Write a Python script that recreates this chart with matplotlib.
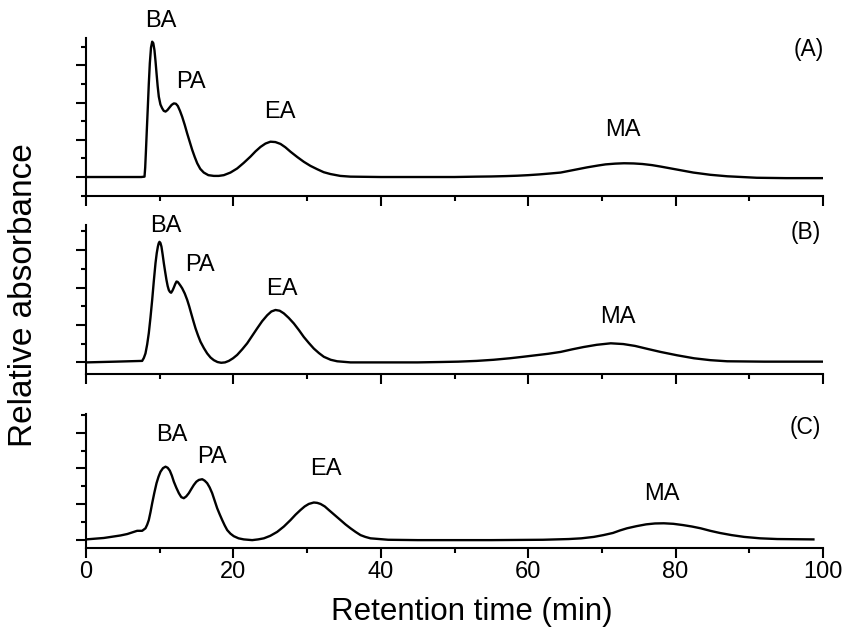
import matplotlib
matplotlib.use('Agg')
import matplotlib.pyplot as plt
from matplotlib.ticker import MultipleLocator

plt.rcParams['font.family'] = ['Liberation Sans', 'DejaVu Sans']

# chromatogram traces (time in min, relative absorbance)
t_a = [0, 7.5, 7.94, 8.03, 8.12, 8.25, 8.39, 8.52, 8.66, 8.82, 8.98, 9.13, 9.29, 9.43,
       9.57, 9.72, 9.88, 10.1, 10.33, 10.55, 10.79, 11.05, 11.33, 11.62, 11.92, 12.2,
       12.46, 12.75, 13.05, 13.4, 13.73, 14.07, 14.41, 14.75, 15.09, 15.5, 15.98, 16.6,
       17.34, 18.0, 18.7, 19.6, 20.51, 21.4, 22.32, 23.0, 23.68, 24.35, 25.03, 25.7,
       26.39, 27.05, 27.75, 28.65, 29.55, 30.45, 31.37, 32.25, 33.17, 34.5, 35.89, 40,
       50, 53, 55, 57, 58.5, 60, 61.5, 63, 64.4, 66.2, 68, 69.5, 70.5, 71.8, 73, 74.3,
       75.5, 76.8, 78, 80.2, 82.4, 84.7, 87, 89, 91, 95, 100]
y_a = [0, 0, 0.01, 0.25, 0.64, 1.25, 1.89, 2.5, 3.06, 3.48, 3.64, 3.6, 3.41, 3.12,
       2.79, 2.45, 2.16, 1.95, 1.85, 1.78, 1.76, 1.8, 1.87, 1.94, 1.98, 1.97,
       1.91, 1.78, 1.62, 1.4, 1.17, 0.95, 0.73, 0.54, 0.37, 0.22, 0.12, 0.05,
       0.03, 0.03, 0.05, 0.12, 0.23, 0.38, 0.55, 0.69, 0.81, 0.9, 0.95, 0.94,
       0.89, 0.8, 0.68, 0.54, 0.41, 0.3, 0.21, 0.13, 0.08, 0.03, 0.01, 0,
       0, 0.01, 0.015, 0.025, 0.035, 0.05, 0.07, 0.095, 0.12, 0.19, 0.26, 0.31, 0.34,
       0.36, 0.37, 0.365, 0.35, 0.32, 0.28, 0.2, 0.12, 0.06, 0.02, 0.0, -0.02, -0.03,
       -0.03]

t_b = [0, 4, 7.62, 7.85, 8.07, 8.3, 8.52, 8.75, 8.98, 9.2, 9.43, 9.6, 9.75, 9.86, 9.97,
       10.1, 10.24, 10.4, 10.56, 10.74, 10.92, 11.08, 11.24, 11.4, 11.55, 11.74, 11.92,
       12.1, 12.28, 12.44, 12.6, 12.82, 13.05, 13.4, 13.73, 14.0, 14.27, 14.56, 14.86,
       15.2, 15.54, 16.0, 16.44, 16.9, 17.34, 17.84, 18.34, 18.86, 19.38, 19.95, 20.51,
       21.2, 21.87, 22.55, 23.23, 23.9, 24.59, 25.15, 25.71, 26.28, 26.84, 27.5, 28.2,
       28.9, 29.55, 30.23, 30.91, 31.6, 32.27, 33.2, 34.08, 35.89, 40, 45, 48, 50.5, 53,
       55.3, 57.5, 59.3, 61, 62.7, 64.4, 66, 67.5, 69.3, 71.2, 72.9, 74.5, 76.2, 77.95,
       80.2, 82.5, 84.7, 87, 92, 100]
y_b = [0, 0.02, 0.04, 0.12, 0.24, 0.48, 0.78, 1.2, 1.67, 2.17, 2.65, 2.92, 3.09, 3.18,
       3.22, 3.19, 3.09, 2.88, 2.65, 2.42, 2.2, 2.04, 1.93, 1.88, 1.86, 1.92, 2.0,
       2.09, 2.16, 2.15, 2.11, 2.05, 1.98, 1.84, 1.67, 1.5, 1.31, 1.11, 0.91,
       0.72, 0.55, 0.38, 0.24, 0.13, 0.06, 0.01, -0.01, 0.0, 0.04, 0.11, 0.2,
       0.35, 0.51, 0.71, 0.91, 1.1, 1.26, 1.36, 1.4, 1.38, 1.31, 1.19, 1.04,
       0.86, 0.68, 0.52, 0.37, 0.25, 0.15, 0.07, 0.03, 0, 0, 0, 0.01, 0.02, 0.04,
       0.07, 0.11, 0.15, 0.19, 0.23, 0.28, 0.35, 0.41, 0.47, 0.51, 0.49, 0.44, 0.36, 0.28,
       0.19, 0.11, 0.06, 0.03, 0.02, 0.02]

t_c = [0, 2.42, 4.68, 5.6, 6.49, 6.94, 7.62, 8.07, 8.3, 8.52, 8.75, 8.98, 9.27, 9.57,
       9.84, 10.11, 10.45, 10.79, 11.08, 11.37, 11.65, 11.92, 12.26, 12.6, 12.93, 13.27,
       13.6, 13.95, 14.3, 14.63, 14.97, 15.31, 15.77, 16.1, 16.44, 16.78, 17.12, 17.46,
       17.8, 18.14, 18.48, 18.82, 19.16, 19.6, 20.05, 20.7, 21.41, 22.55, 23.35, 24.13,
       25.0, 25.94, 26.85, 27.75, 28.43, 29.1, 29.67, 30.23, 30.91, 31.37, 31.82, 32.4,
       32.95, 33.74, 34.53, 35.2, 35.89, 36.57, 37.25, 37.9, 38.6, 41, 45, 55, 62, 65.5,
       67.2, 68.9, 70.2, 71.5, 72.45, 73.4, 74.7, 76, 77.2, 78.4, 79.7, 81, 82.2, 83.4,
       84.7, 86, 87.6, 89.3, 91.5, 93.8, 98.7]
y_c = [0.02, 0.06, 0.13, 0.17, 0.23, 0.26, 0.26, 0.33, 0.43, 0.56, 0.78, 1.03, 1.32, 1.59,
       1.77, 1.91, 2.01, 2.05, 2.02, 1.94, 1.8, 1.63, 1.46, 1.31, 1.2, 1.17,
       1.22, 1.31, 1.43, 1.54, 1.63, 1.68, 1.7, 1.66, 1.59, 1.47, 1.31, 1.1,
       0.89, 0.72, 0.56, 0.41, 0.28, 0.18, 0.11, 0.05, 0.02, 0.0, 0.02, 0.05,
       0.12, 0.23, 0.38, 0.56, 0.71, 0.84, 0.94, 1.01, 1.05, 1.04, 1.01, 0.94,
       0.84, 0.7, 0.56, 0.44, 0.33, 0.23, 0.14, 0.09, 0.05, 0.01, 0, 0, 0.01, 0.03,
       0.05, 0.09, 0.14, 0.2, 0.27, 0.33, 0.39, 0.44, 0.465, 0.47, 0.455, 0.42, 0.38, 0.33,
       0.26, 0.2, 0.14, 0.09, 0.05, 0.03, 0.02]

peak_names = ['BA', 'PA', 'EA', 'MA']
label_pos_a = [(10.1, 4.19), (14.2, 2.55), (26.3, 1.75), (72.8, 1.26)]
label_pos_b = [(10.8, 3.65), (15.5, 2.60), (26.6, 1.96), (72.1, 1.22)]
label_pos_c = [(11.6, 2.93), (17.1, 2.32), (32.6, 1.99), (78.2, 1.29)]
panel_tags = ['(A)', '(B)', '(C)']
tag_pos = [(98.0, 3.44), (97.6, 3.48), (97.6, 3.14)]

fig = plt.figure(figsize=(8.48, 6.39), dpi=100)

left, width = 86 / 848, 737 / 848
rects = [[left, 0.6933, width, 0.2473],
         [left, 0.4147, width, 0.2332],
         [left, 0.1424, width, 0.2097]]
ylims = [(-0.51, 3.74), (-0.31, 3.67), (-0.22, 3.52)]
traces = [(t_a, y_a), (t_b, y_b), (t_c, y_c)]
label_sets = [label_pos_a, label_pos_b, label_pos_c]

for i in range(3):
    ax = fig.add_axes(rects[i])
    t, y = traces[i]
    ax.plot(t, y, color='black', lw=1.7, solid_joinstyle='round')
    ax.set_xlim(0, 100)
    ax.set_ylim(*ylims[i])
    for s in ['top', 'right']:
        ax.spines[s].set_visible(False)
    for s in ['left', 'bottom']:
        ax.spines[s].set_linewidth(1.5)
    ax.xaxis.set_major_locator(MultipleLocator(20))
    ax.xaxis.set_minor_locator(MultipleLocator(10))
    ax.yaxis.set_major_locator(MultipleLocator(1))
    ax.yaxis.set_minor_locator(MultipleLocator(0.5))
    ax.tick_params(which='major', length=7, width=1.5, direction='out')
    ax.tick_params(which='minor', length=3.3, width=1.5, direction='out')
    ax.set_yticklabels([])
    if i < 2:
        ax.set_xticklabels([])
    else:
        ax.tick_params(axis='x', which='major', pad=2, labelsize=17)

    for name, (x, yy) in zip(peak_names, label_sets[i]):
        ax.text(x, yy, name, fontsize=17, ha='center', va='center')
    ax.text(tag_pos[i][0], tag_pos[i][1], panel_tags[i], fontsize=16.5,
            ha='center', va='center')

fig.text(0.0277, 0.538, 'Relative absorbance', rotation=90, fontsize=24,
         ha='center', va='center')
fig.text(472 / 848, 1 - 612 / 639, 'Retention time (min)', fontsize=22.5,
         ha='center', va='center')

fig.savefig('out.png', dpi=100)
